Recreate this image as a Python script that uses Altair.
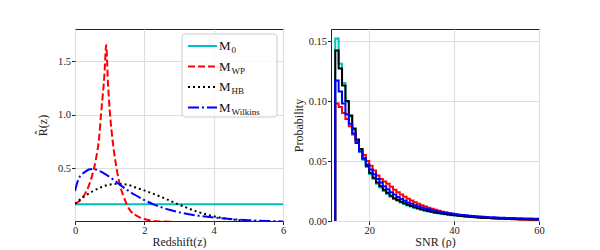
import altair as alt
import pandas as pd

# ---------------- Left panel data: R(z) curves ----------------
m0_z = [0.0, 6.0]
m0_r = [0.167, 0.167]

wp_z = [0, 0.1, 0.2, 0.3, 0.4, 0.5, 0.6, 0.7, 0.75, 0.8, 0.85, 0.9, 0.95, 1.0, 1.1, 1.2, 1.3,
        1.4, 1.5, 1.6, 1.8, 2.0, 2.2, 2.5, 3.0, 3.5, 4.0, 5.0, 6.0]
wp_r = [0.17, 0.19, 0.22, 0.27, 0.34, 0.44, 0.58, 0.80, 1.0, 1.18, 1.38, 1.65, 1.30, 1.05, 0.72,
        0.50, 0.34, 0.24, 0.16, 0.105, 0.055, 0.028, 0.014, 0.005, 0.001, 0.0003, 0.0001, 0.0, 0.0]

hb_z = [0, 0.25, 0.5, 0.75, 1.0, 1.25, 1.5, 1.75, 2.0, 2.25, 2.5, 2.75, 3.0, 3.25, 3.5, 3.75,
        4.0, 4.25, 4.5, 4.75, 5.0, 5.5, 6.0]
hb_r = [0.17, 0.235, 0.285, 0.325, 0.35, 0.357, 0.35, 0.322, 0.295, 0.265, 0.232, 0.198, 0.163,
        0.13, 0.1, 0.075, 0.054, 0.038, 0.026, 0.017, 0.011, 0.004, 0.001]

wk_z = [0, 0.05, 0.1, 0.2, 0.3, 0.4, 0.5, 0.6, 0.75, 1.0, 1.25, 1.5, 1.75, 2.0, 2.25, 2.5, 2.75,
        3.0, 3.5, 4.0, 4.5, 5.0, 5.5, 6.0]
wk_r = [0.29, 0.35, 0.40, 0.445, 0.47, 0.49, 0.495, 0.49, 0.47, 0.42, 0.36, 0.30, 0.25, 0.205,
        0.168, 0.137, 0.112, 0.092, 0.062, 0.042, 0.028, 0.018, 0.011, 0.006]

# ---------------- Right panel data: SNR histograms ----------------
snr_start = 12.0
snr_width = 0.8
h_m0 = [0.152, 0.131, 0.115, 0.099, 0.087, 0.076, 0.067, 0.058, 0.051, 0.045, 0.039, 0.035,
        0.031, 0.028, 0.025, 0.0225, 0.0203, 0.0184, 0.0168, 0.0154, 0.0142, 0.013, 0.012, 0.011,
        0.0102, 0.0094, 0.0087, 0.008, 0.0074, 0.0069, 0.0064, 0.006, 0.0056, 0.0052, 0.0048,
        0.0045, 0.0042, 0.0039, 0.0037, 0.0035, 0.0033, 0.0031, 0.0029, 0.0027, 0.0025, 0.0024,
        0.0022, 0.0021, 0.002, 0.0019, 0.0018, 0.0017, 0.0016, 0.0015, 0.0014, 0.0013, 0.0013,
        0.0012, 0.0011, 0.0011]
h_wp = [0.098, 0.095, 0.090, 0.085, 0.079, 0.072, 0.066, 0.060, 0.055, 0.050, 0.046, 0.042,
        0.038, 0.035, 0.033, 0.031, 0.0285, 0.026, 0.024, 0.022, 0.0202, 0.0186, 0.0171, 0.0157,
        0.0144, 0.0132, 0.0121, 0.0111, 0.0102, 0.0093, 0.0085, 0.0078, 0.0071, 0.0065, 0.006,
        0.0055, 0.005, 0.0046, 0.0042, 0.0039, 0.0036, 0.0033, 0.003, 0.0028, 0.0026, 0.0024,
        0.0022, 0.002, 0.0019, 0.0018, 0.0017, 0.0016, 0.0015, 0.0014, 0.0013, 0.0012, 0.0011,
        0.0011, 0.001, 0.001]
h_hb = [0.142, 0.127, 0.113, 0.100, 0.088, 0.077, 0.068, 0.060, 0.052, 0.046, 0.040, 0.036,
        0.032, 0.029, 0.026, 0.0235, 0.021, 0.019, 0.0175, 0.016, 0.0147, 0.0135, 0.0125, 0.0115,
        0.0106, 0.0098, 0.009, 0.0083, 0.0077, 0.0071, 0.0066, 0.0062, 0.0058, 0.0054, 0.005,
        0.0047, 0.0044, 0.0041, 0.0038, 0.0036, 0.0034, 0.0032, 0.003, 0.0028, 0.0026, 0.0025,
        0.0023, 0.0022, 0.0021, 0.002, 0.0019, 0.0018, 0.0017, 0.0016, 0.0015, 0.0014, 0.0014,
        0.0013, 0.0012, 0.0012]
h_wk = [0.117, 0.108, 0.098, 0.089, 0.081, 0.073, 0.065, 0.058, 0.052, 0.047, 0.043, 0.039,
        0.035, 0.032, 0.029, 0.0265, 0.024, 0.022, 0.020, 0.0183, 0.0168, 0.0155, 0.0143, 0.0132,
        0.0122, 0.0113, 0.0105, 0.0097, 0.009, 0.0084, 0.0078, 0.0073, 0.0068, 0.0064, 0.006,
        0.0056, 0.0053, 0.005, 0.0047, 0.0044, 0.0042, 0.004, 0.0038, 0.0036, 0.0034, 0.0032,
        0.0031, 0.0029, 0.0028, 0.0027, 0.0026, 0.0025, 0.0024, 0.0023, 0.0022, 0.0021, 0.002,
        0.002, 0.0019, 0.0018]

models = ["0", "WP", "HB", "Wilkins"]
colors = ["#00bfbf", "#ff0000", "#000000", "#0000ff"]
dashes = [None, [7, 3], [2, 3], [11, 3, 2, 3]]

FONT = "Liberation Serif"
W, H = 208, 192

# ---------------- Left panel ----------------
x_left = alt.X("z:Q", scale=alt.Scale(domain=[0, 6], nice=False, zero=False),
               axis=alt.Axis(title="Redshift(z)", values=[0, 2, 4, 6], format="d",
                             labelFlush=False, titlePadding=0))
y_left = alt.Y("r:Q", scale=alt.Scale(domain=[0.01, 1.8], nice=False, zero=False),
               axis=alt.Axis(title="R̂(z)", values=[0.5, 1.0, 1.5], format=".1f",
                             minExtent=22, maxExtent=22))

left_layers = []
for zs, rs, col, dash in zip([m0_z, wp_z, hb_z, wk_z], [m0_r, wp_r, hb_r, wk_r], colors, dashes):
    df = pd.DataFrame({"z": zs, "r": rs})
    kw = dict(color=col, strokeWidth=2, clip=True, interpolate="monotone")
    if dash is not None:
        kw["strokeDash"] = dash
    left_layers.append(alt.Chart(df).mark_line(**kw).encode(x=x_left, y=y_left))

# legend (drawn manually to allow subscripts)
one = pd.DataFrame({"a": [0]})
leg_box = alt.Chart(one).mark_rect(fill="white", fillOpacity=0.85, stroke="#cccccc",
                                   strokeWidth=1, cornerRadius=3).encode(
    x=alt.value(107), x2=alt.value(202), y=alt.value(5), y2=alt.value(88))
left_layers.append(leg_box)
rows = [17, 37.5, 58, 78.5]
for m, col, dash, ry in zip(models, colors, dashes, rows):
    kw = dict(color=col, strokeWidth=2)
    if dash is not None:
        kw["strokeDash"] = dash
    left_layers.append(alt.Chart(one).mark_rule(**kw).encode(
        x=alt.value(113), x2=alt.value(142), y=alt.value(ry)))
    left_layers.append(alt.Chart(one).mark_text(
        text="M", font=FONT, fontSize=13, align="left", baseline="middle", color="#111").encode(
        x=alt.value(144), y=alt.value(ry)))
    left_layers.append(alt.Chart(one).mark_text(
        text=m, font=FONT, fontSize=9, align="left", baseline="middle", color="#111").encode(
        x=alt.value(156.5), y=alt.value(ry + 4)))

left = alt.layer(*left_layers).properties(width=W, height=H)

# ---------------- Right panel ----------------
x_right = alt.X("snr:Q", scale=alt.Scale(domain=[11, 60], nice=False, zero=False),
                axis=alt.Axis(title="SNR (ρ)", values=[20, 40, 60], format="d",
                              labelFlush=False, titlePadding=0))
y_right = alt.Y("p:Q", scale=alt.Scale(domain=[0, 0.16], nice=False),
                axis=alt.Axis(title="Probability", values=[0, 0.05, 0.10, 0.15], format=".2f",
                              minExtent=22, maxExtent=22))

right_layers = []
for vals, col in zip([h_m0, h_wp, h_hb, h_wk], colors):
    n = len(vals)
    edges = [snr_start + snr_width * i for i in range(n + 1)]
    xs = [edges[0]] + edges[:n] + [edges[n], edges[n]]
    ps = [0.0] + list(vals) + [vals[-1], 0.0]
    df = pd.DataFrame({"snr": xs, "p": ps, "o": list(range(len(xs)))})
    right_layers.append(alt.Chart(df).mark_line(
        color=col, strokeWidth=2, interpolate="step-after", clip=True).encode(
        x=x_right, y=y_right, order="o:Q"))

right = alt.layer(*right_layers).properties(width=W, height=H)

chart = alt.hconcat(left, right, spacing=4).properties(
    padding={"left": 27, "top": 20, "right": 0, "bottom": 0}
).configure_axis(
    labelFont=FONT, titleFont=FONT, labelFontSize=10.5, titleFontSize=12,
    labelColor="#222", titleColor="#222", titleFontWeight="normal",
    tickColor="#222", tickSize=3.5, labelPadding=1, titlePadding=4,
    grid=True, gridColor="#dddddd", gridWidth=1, domain=False
).configure_view(stroke="#222", strokeWidth=1)

chart.save("out.html", embed_options={"renderer": "svg", "actions": False})
